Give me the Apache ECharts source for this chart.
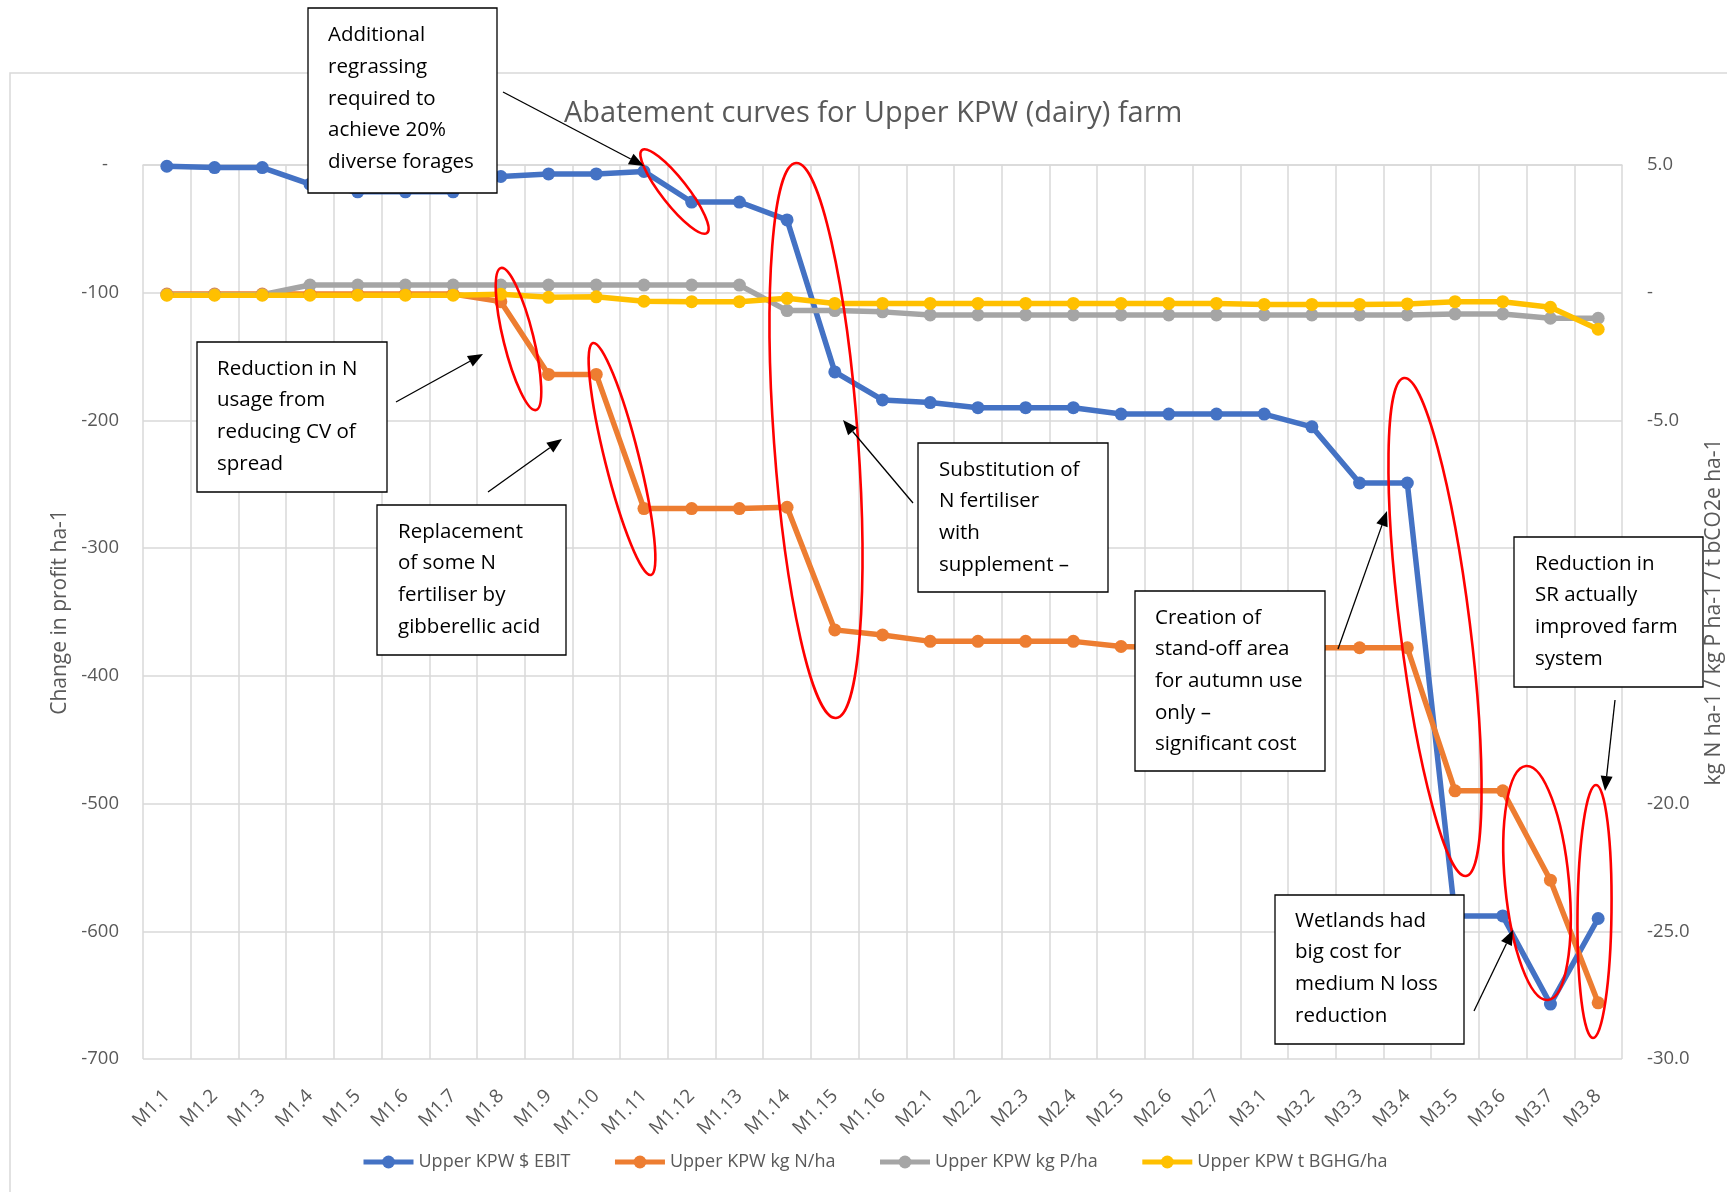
<!DOCTYPE html>
<html lang="en">
<head>
    <meta charset="UTF-8">
    <title>Abatement curves for Upper KPW (dairy) farm</title>
    <script src="https://cdn.jsdelivr.net/npm/echarts@6/dist/echarts.min.js"></script>
    <style>
        html, body { margin: 0; padding: 0; background: #fff; }
        #main { width: 1727px; height: 1192px; }
    </style>
</head>
<body>
<div id="main"></div>
<script type="text/javascript">
    // mitigation steps
    var categories = ['M1.1', 'M1.2', 'M1.3', 'M1.4', 'M1.5', 'M1.6', 'M1.7', 'M1.8', 'M1.9', 'M1.10',
        'M1.11', 'M1.12', 'M1.13', 'M1.14', 'M1.15', 'M1.16',
        'M2.1', 'M2.2', 'M2.3', 'M2.4', 'M2.5', 'M2.6', 'M2.7',
        'M3.1', 'M3.2', 'M3.3', 'M3.4', 'M3.5', 'M3.6', 'M3.7', 'M3.8'];

    // change in profit, $/ha (left axis)
    var ebit = [-1, -2, -2, -15, -21, -21, -21, -9, -7, -7, -5, -29, -29, -43, -162, -184,
        -186, -190, -190, -190, -195, -195, -195,
        -195, -205, -249, -249, -588, -588, -657, -590];

    // right axis values
    var nitrogen = [-0.05, -0.05, -0.05, -0.05, -0.05, -0.05, -0.05, -0.35, -3.2, -3.2, -8.45, -8.45, -8.45, -8.4, -13.2, -13.4,
        -13.65, -13.65, -13.65, -13.65, -13.85, -13.9, -13.9,
        -13.9, -13.9, -13.9, -13.9, -19.5, -19.5, -23.0, -27.8];
    var phosphorus = [-0.08, -0.08, -0.08, 0.3, 0.3, 0.3, 0.3, 0.3, 0.3, 0.3, 0.3, 0.3, 0.3, -0.7, -0.7, -0.75,
        -0.87, -0.87, -0.87, -0.87, -0.87, -0.87, -0.87,
        -0.87, -0.87, -0.87, -0.87, -0.83, -0.83, -1.0, -1.0];
    var ghg = [-0.1, -0.1, -0.1, -0.1, -0.1, -0.1, -0.1, -0.06, -0.18, -0.16, -0.33, -0.35, -0.35, -0.22, -0.42, -0.42,
        -0.42, -0.42, -0.42, -0.42, -0.42, -0.42, -0.42,
        -0.46, -0.46, -0.46, -0.44, -0.35, -0.35, -0.57, -1.43];

    var seriesNames = ['Upper KPW $ EBIT', 'Upper KPW kg N/ha', 'Upper KPW kg P/ha', 'Upper KPW t BGHG/ha'];
    var colors = ['#4472c4', '#ed7d31', '#a5a5a5', '#ffc000'];

    var FONT = 'Open Sans';
    var GREY = '#595959';

    // annotation helpers
    function box(x, y, w, h, tx, ty, lines) {
        return [
            {type: 'rect', z: 100, shape: {x: x, y: y, width: w, height: h},
                style: {fill: '#fff', stroke: '#000', lineWidth: 1.3}},
            {type: 'text', z: 101, x: tx, y: ty,
                style: {text: lines.join('\n'), fontSize: 20.5, fontFamily: FONT, fill: '#000',
                    lineHeight: 31.7, verticalAlign: 'top'}}
        ];
    }

    function arrow(x1, y1, x2, y2) {
        var ang = Math.atan2(y2 - y1, x2 - x1), L = 15, W = 6;
        var bx = x2 - L * Math.cos(ang), by = y2 - L * Math.sin(ang);
        var px = -Math.sin(ang) * W, py = Math.cos(ang) * W;
        return [
            {type: 'line', z: 102, shape: {x1: x1, y1: y1, x2: bx, y2: by},
                style: {stroke: '#000', lineWidth: 1.3}},
            {type: 'polygon', z: 102, shape: {points: [[x2, y2], [bx + px, by + py], [bx - px, by - py]]},
                style: {fill: '#000'}}
        ];
    }

    function ring(x1, y1, x2, y2, b) {
        var a = Math.sqrt((x2 - x1) * (x2 - x1) + (y2 - y1) * (y2 - y1)) / 2;
        var ang = Math.atan2(y2 - y1, x2 - x1);
        return {type: 'ellipse', z: 99, x: (x1 + x2) / 2, y: (y1 + y2) / 2, rotation: -ang,
            shape: {cx: 0, cy: 0, rx: a, ry: b},
            style: {fill: 'none', stroke: '#ff0000', lineWidth: 2.6}};
    }

    var notes = [
        {type: 'rect', z: 0, shape: {x: 10, y: 73, width: 1800, height: 1200},
            style: {fill: 'none', stroke: '#d9d9d9', lineWidth: 1.5}}
    ];
    notes.push(ring(642, 150, 707, 233, 13));
    notes.push(ring(501, 268, 536, 410, 15));
    notes.push(ring(593, 343, 651, 575, 17));
    notes.push(ring(796, 163, 836, 718, 42));
    notes.push(ring(1404, 378, 1466, 876, 35));
    notes.push(ring(1526, 766, 1548, 1000, 32));
    notes.push(ring(1596, 785, 1593, 1038, 17));

    notes = notes.concat(
        box(308, 8, 189, 185, 328, 19.5, ['Additional', 'regrassing', 'required to', 'achieve 20%', 'diverse forages']),
        box(197, 342, 190, 150, 217, 353, ['Reduction in N', 'usage from', 'reducing CV of', 'spread']),
        box(377, 505, 189, 150, 398, 516, ['Replacement', 'of some N', 'fertiliser by', 'gibberellic acid']),
        box(918, 443, 190, 149, 939, 454, ['Substitution of', 'N fertiliser', 'with', 'supplement \u2013']),
        box(1135, 591, 190, 180, 1155, 602, ['Creation of', 'stand-off area', 'for autumn use', 'only \u2013', 'significant cost']),
        box(1514, 537, 189, 150, 1535, 548, ['Reduction in', 'SR actually', 'improved farm', 'system']),
        box(1275, 895, 189, 149, 1295, 905, ['Wetlands had', 'big cost for', 'medium N loss', 'reduction']),
        arrow(503, 92, 644, 166),
        arrow(396, 402, 483, 354),
        arrow(488, 492, 562, 439),
        arrow(913, 503, 843, 420),
        arrow(1338, 649, 1387, 511),
        arrow(1615, 700, 1605, 791),
        arrow(1474, 1011, 1513, 930)
    );

    var myChart = echarts.init(document.getElementById('main'));

    var option = {
        animation: false,
        backgroundColor: '#fff',
        color: colors,
        textStyle: {fontFamily: FONT},
        title: {
            text: 'Abatement curves for Upper KPW (dairy) farm',
            left: 564,
            top: 99,
            padding: 0,
            textStyle: {fontSize: 29, fontWeight: 'normal', color: GREY, fontFamily: FONT}
        },
        legend: {
            data: seriesNames,
            left: 361,
            top: 1153,
            padding: 0,
            itemWidth: 50,
            itemHeight: 16,
            itemGap: 42,
            lineStyle: {width: 5},
            textStyle: {fontSize: 18, color: GREY, fontFamily: FONT}
        },
        grid: {left: 143, right: 105, top: 165, bottom: 133, containLabel: false, outerBoundsMode: 'none'},
        xAxis: {
            type: 'category',
            data: categories,
            boundaryGap: true,
            axisLine: {lineStyle: {color: '#d9d9d9', width: 1.5}},
            axisTick: {show: false},
            axisLabel: {interval: 0, rotate: 45, fontSize: 19, color: GREY, margin: 34},
            splitLine: {show: true, interval: 0, lineStyle: {color: '#d9d9d9', width: 1.5}}
        },
        yAxis: [
            {
                type: 'value',
                position: 'left',
                min: -700,
                max: 0,
                interval: 100,
                name: 'Change in profit ha-1',
                nameLocation: 'middle',
                nameRotate: 90,
                nameGap: 72,
                nameTextStyle: {fontSize: 21, color: GREY},
                axisLine: {show: false},
                axisTick: {show: false},
                axisLabel: {
                    margin: 24,
                    fontSize: 18.5,
                    color: GREY,
                    formatter: function (v) {
                        return v === 0 ? '{d|-}' : String(v);
                    },
                    rich: {d: {fontSize: 18.5, color: GREY, padding: [0, 11, 0, 0]}}
                },
                splitLine: {lineStyle: {color: '#d9d9d9', width: 1.5}}
            },
            {
                type: 'value',
                position: 'right',
                min: -30,
                max: 5,
                interval: 5,
                name: 'kg N ha-1 / kg P ha-1 / t bCO2e ha-1',
                nameLocation: 'middle',
                nameRotate: 90,
                nameGap: 82,
                nameTextStyle: {fontSize: 21, color: GREY},
                axisLine: {show: false},
                axisTick: {show: false},
                axisLabel: {
                    margin: 25,
                    fontSize: 18.5,
                    color: GREY,
                    formatter: function (v) {
                        return v === 0 ? '-' : v.toFixed(1);
                    }
                },
                splitLine: {show: false}
            }
        ],
        series: [
            {name: seriesNames[0], type: 'line', yAxisIndex: 0, data: ebit},
            {name: seriesNames[1], type: 'line', yAxisIndex: 1, data: nitrogen},
            {name: seriesNames[2], type: 'line', yAxisIndex: 1, data: phosphorus},
            {name: seriesNames[3], type: 'line', yAxisIndex: 1, data: ghg}
        ].map(function (s, i) {
            s.symbol = 'circle';
            s.symbolSize = 13;
            s.lineStyle = {width: 5.5, color: colors[i]};
            s.itemStyle = {color: colors[i]};
            return s;
        }),
        graphic: {elements: notes}
    };

    myChart.setOption(option);
</script>
</body>
</html>
